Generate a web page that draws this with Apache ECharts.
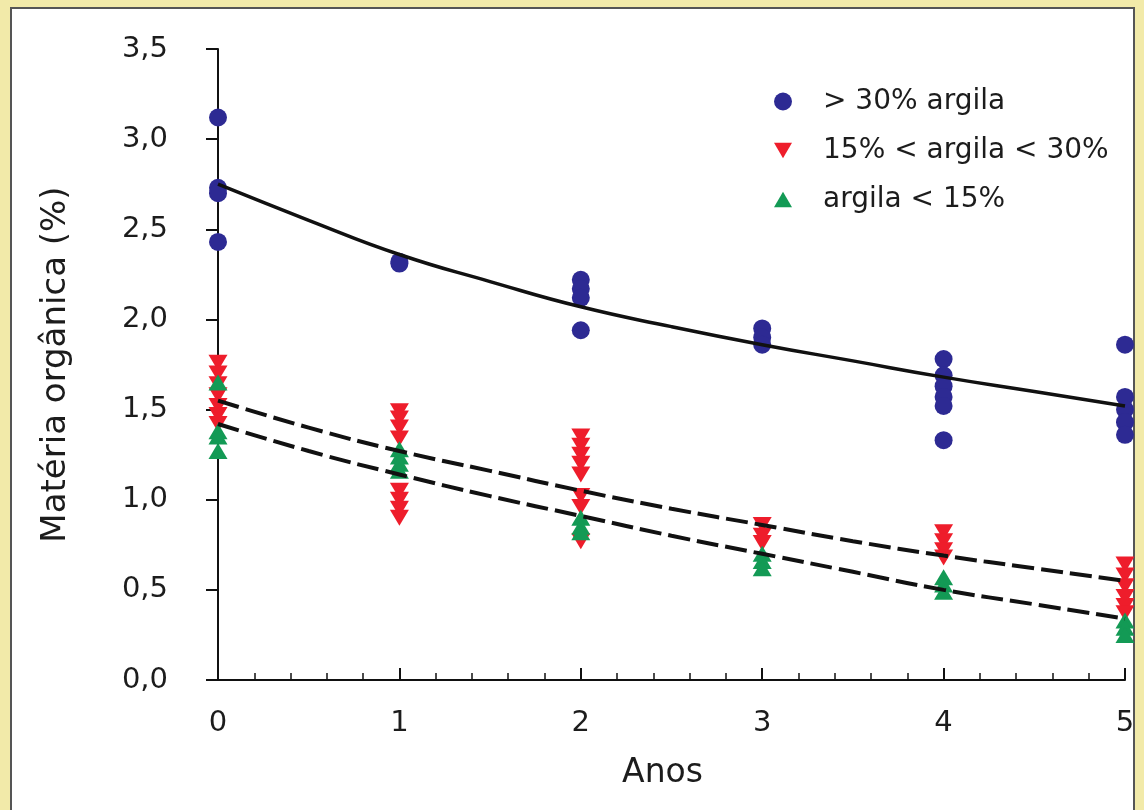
<!DOCTYPE html>
<html>
<head>
<meta charset="utf-8">
<script src="https://cdn.jsdelivr.net/npm/echarts@6/dist/echarts.min.js"></script>
<style>
  html, body { margin: 0; padding: 0; }
  body { width: 1144px; height: 810px; background: #f2eaa9; position: relative; overflow: hidden; }
  #frame { position: absolute; left: 10px; top: 7px; width: 1121px; height: 820px;
           background: #fff; border: 2px solid #555; }
  #main { position: absolute; left: 0; top: 0; width: 1144px; height: 810px; }
</style>
</head>
<body>
<div id="frame"></div>
<div id="main"></div>
<script>
// pontos: [ano, materia organica %]
var argilaAlta = [
  [0, 3.12], [0, 2.73], [0, 2.70], [0, 2.43],
  [1, 2.32], [1, 2.31],
  [2, 2.22], [2, 2.17], [2, 2.12], [2, 1.94],
  [3, 1.95], [3, 1.90], [3, 1.86],
  [4, 1.78], [4, 1.69], [4, 1.63], [4, 1.57], [4, 1.52], [4, 1.33],
  [5, 1.86], [5, 1.57], [5, 1.50], [5, 1.43], [5, 1.36]
];
var argilaMedia = [
  [0, 1.76], [0, 1.70], [0, 1.64], [0, 1.58], [0, 1.52], [0, 1.47], [0, 1.42],
  [1, 1.49], [1, 1.45], [1, 1.40], [1, 1.34], [1, 1.05], [1, 1.00], [1, 0.95], [1, 0.90],
  [2, 1.35], [2, 1.30], [2, 1.25], [2, 1.20], [2, 1.14], [2, 1.02], [2, 0.96], [2, 0.77],
  [3, 0.86], [3, 0.80], [3, 0.76],
  [4, 0.82], [4, 0.77], [4, 0.72], [4, 0.68],
  [5, 0.64], [5, 0.58], [5, 0.52], [5, 0.46], [5, 0.41], [5, 0.37]
];
var argilaBaixa = [
  [0, 1.65], [0, 1.38], [0, 1.35], [0, 1.27],
  [1, 1.28], [1, 1.24], [1, 1.20], [1, 1.16],
  [2, 0.90], [2, 0.85], [2, 0.82],
  [3, 0.70], [3, 0.66], [3, 0.62],
  [4, 0.57], [4, 0.53], [4, 0.49],
  [5, 0.33], [5, 0.29], [5, 0.25]
];

// curvas ajustadas, lidas a cada meio ano
var anosCurva = [0, 0.5, 1, 1.5, 2, 2.5, 3, 3.5, 4, 4.5, 5];
var curvaAlta  = [2.75, 2.55, 2.36, 2.21, 2.07, 1.96, 1.86, 1.77, 1.68, 1.60, 1.52];
var curvaMedia = [1.55, 1.40, 1.27, 1.16, 1.05, 0.95, 0.86, 0.77, 0.69, 0.62, 0.55];
var curvaBaixa = [1.42, 1.27, 1.14, 1.02, 0.91, 0.80, 0.70, 0.60, 0.50, 0.42, 0.34];

var nomes = ['> 30% argila', '15% < argila < 30%', 'argila < 15%'];
var yTicks = [0, 0.5, 1, 1.5, 2, 2.5, 3, 3.5];

function pares(xs, ys) {
  return xs.map(function (x, i) { return [x, ys[i]]; });
}

var fonte = 'DejaVu Sans';
var corTexto = '#1c1c1c';
var triBaixo = 'path://M0,0 L20,0 L10,17 Z';
var triCima = 'path://M10,0 L20,17 L0,17 Z';

var chartDom = document.getElementById('main');
var myChart = echarts.init(chartDom);
var option;

option = {
  animation: false,
  grid: { left: 218, right: 19, top: 49, bottom: 130 },
  legend: {
    orient: 'vertical',
    left: 769,
    top: 82,
    itemWidth: 18,
    itemHeight: 18,
    itemGap: 20,
    data: nomes,
    textStyle: { fontFamily: fonte, fontSize: 28, color: corTexto, padding: [0, 0, 0, 26], lineHeight: 29 }
  },
  xAxis: {
    type: 'value',
    min: 0,
    max: 5,
    interval: 1,
    name: 'Anos',
    nameLocation: 'middle',
    nameGap: 77,
    nameTextStyle: { fontFamily: fonte, fontSize: 33, color: corTexto, padding: [0, 18, 0, 0] },
    axisLine: { lineStyle: { color: '#111', width: 2 } },
    axisTick: { inside: true, length: 12, lineStyle: { color: '#111', width: 2 } },
    minorTick: { show: true, splitNumber: 5, length: 7, lineStyle: { color: '#111', width: 1.5 } },
    axisLabel: { fontFamily: fonte, fontSize: 29, color: corTexto, margin: 29 },
    splitLine: { show: false }
  },
  yAxis: {
    type: 'value',
    min: 0,
    max: 3.5,
    interval: 0.5,
    offset: 35,
    name: 'Matéria orgânica (%)',
    nameLocation: 'middle',
    nameGap: 110,
    nameTextStyle: { fontFamily: fonte, fontSize: 34, color: corTexto },
    axisLine: { show: true, lineStyle: { color: '#111', width: 2 } },
    axisTick: { show: true, length: 12, lineStyle: { color: '#111', width: 2 } },
    axisLabel: {
      fontFamily: fonte, fontSize: 29, color: corTexto, margin: 15,
      formatter: function (v) {
        if (yTicks.indexOf(v) < 0) return '';
        return v.toFixed(1).replace('.', ',');
      }
    },
    splitLine: { show: false }
  },
  series: [
    {
      name: nomes[0], type: 'scatter', data: argilaAlta,
      symbol: 'circle', symbolSize: 18,
      itemStyle: { color: '#2d2a93', opacity: 1 }
    },
    {
      name: nomes[1], type: 'scatter', data: argilaMedia,
      symbol: triBaixo, symbolSize: [19, 16],
      itemStyle: { color: '#ee1d2b', opacity: 1 }
    },
    {
      name: nomes[2], type: 'scatter', data: argilaBaixa,
      symbol: triCima, symbolSize: [19, 16],
      itemStyle: { color: '#139a55', opacity: 1 }
    },
    {
      type: 'line', data: pares(anosCurva, curvaAlta), smooth: true, showSymbol: false,
      lineStyle: { color: '#111', width: 3.5 }, z: 5
    },
    {
      type: 'line', data: pares(anosCurva, curvaMedia), smooth: true, showSymbol: false,
      lineStyle: { color: '#111', width: 4, type: [22, 7] }, z: 5
    },
    {
      type: 'line', data: pares(anosCurva, curvaBaixa), smooth: true, showSymbol: false,
      lineStyle: { color: '#111', width: 4, type: [22, 7] }, z: 5
    }
  ]
};

option && myChart.setOption(option);
</script>
</body>
</html>
